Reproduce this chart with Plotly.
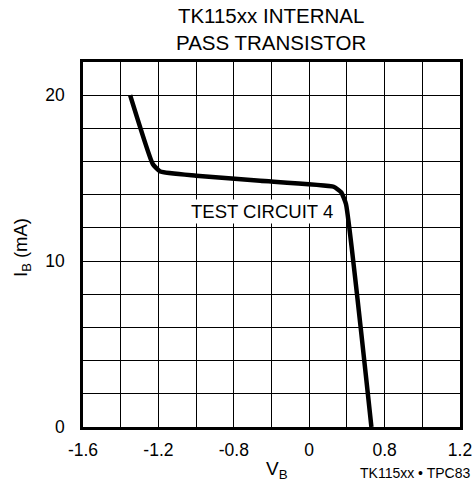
import numpy as np
import plotly.graph_objects as go

# Data (V_B in volts as labelled, I_B in mA)
vb = [-1.35, -1.23, -1.19, -1.0, -0.52, 0.26, 0.34, 0.39, 0.66]
ib = [20.0, 15.85, 15.4, 15.15, 14.84, 14.48, 14.14, 13.44, 0.0]

# Axis tick labels as printed on the chart (equally spaced, every 2nd gridline)
x_tick_values = [-1.6, -1.2, -0.8, 0.0, 0.8, 1.2]
x_tick_labels = ["-1.6", "-1.2", "-0.8", "0", "0.8", "1.2"]
y_tick_values = [0, 10, 20]
y_tick_labels = ["0", "10", "20"]

title_lines = ["TK115xx INTERNAL", "PASS TRANSISTOR"]
annotation_text = "TEST CIRCUIT 4"
annotation_vb = -0.50
annotation_ib = 13.0

# The printed x scale is piecewise: labels sit on every second grid line
label_pos = np.arange(len(x_tick_values)) * 2.0
def xscale(v):
    return np.interp(v, x_tick_values, label_pos)

FONT = "Liberation Sans, Arial, sans-serif"

W, H = 474, 496
L, R, T, B = 83, 14, 62, 69
PW, PH = W - L - R, H - T - B
def px(x):
    return (x - L) / PW
def py(y):
    return (H - B - y) / PH

fig = go.Figure()
fig.add_trace(go.Scatter(
    x=xscale(vb), y=ib, mode="lines",
    line=dict(color="black", width=4.5, shape="spline", smoothing=0.4),
    hoverinfo="skip", showlegend=False,
))

fig.update_layout(
    width=W, height=H,
    margin=dict(l=L, r=R, t=T, b=B, autoexpand=False),
    paper_bgcolor="white", plot_bgcolor="white",
    font=dict(family=FONT, color="black", size=17.5),
    showlegend=False,
)
fig.update_xaxes(
    range=[0, 10], tickmode="array", tickvals=label_pos, ticktext=x_tick_labels,
    showgrid=True, gridcolor="black", gridwidth=1, zeroline=False,
    minor=dict(dtick=1, tick0=0, showgrid=True, gridcolor="black", gridwidth=1),
    showline=True, linecolor="black", linewidth=2.5, mirror=True, automargin=False,
    ticks="", ticklabelstandoff=5, tickfont=dict(size=17.5, family=FONT),
)
fig.update_yaxes(
    range=[0, 22], tickmode="array", tickvals=y_tick_values, ticktext=y_tick_labels,
    showgrid=True, gridcolor="black", gridwidth=1, zeroline=False,
    minor=dict(dtick=2, tick0=0, showgrid=True, gridcolor="black", gridwidth=1),
    showline=True, linecolor="black", linewidth=2.5, mirror=True, automargin=False,
    ticks="", ticklabelstandoff=12, tickfont=dict(size=17.5, family=FONT),
)

fig.add_annotation(x=px(271), y=py(29), xref="paper", yref="paper",
                   text="<br>".join(title_lines),
                   showarrow=False, font=dict(size=20.5, family=FONT),
                   xanchor="center", yanchor="middle")

fig.add_annotation(x=xscale(annotation_vb), y=annotation_ib, xref="x", yref="y",
                   text=annotation_text, showarrow=False, bgcolor="white",
                   font=dict(size=18.5, family=FONT), borderpad=1)
fig.add_annotation(x=px(22), y=py(247), xref="paper", yref="paper",
                   text="I<sub>B</sub> (mA)", showarrow=False, textangle=-90,
                   font=dict(size=18.5, family=FONT), xanchor="center", yanchor="middle")
fig.add_annotation(x=px(277), y=py(470), xref="paper", yref="paper",
                   text="V<sub>B</sub>", showarrow=False,
                   font=dict(size=19, family=FONT), xanchor="center", yanchor="middle")
fig.add_annotation(x=px(472), y=py(473), xref="paper", yref="paper",
                   text="TK115xx • TPC83", showarrow=False,
                   font=dict(size=14, family=FONT), xanchor="right", yanchor="middle")

fig.write_html("out.html", config={"displayModeBar": False},
               post_script="document.body.style.margin='0';")
